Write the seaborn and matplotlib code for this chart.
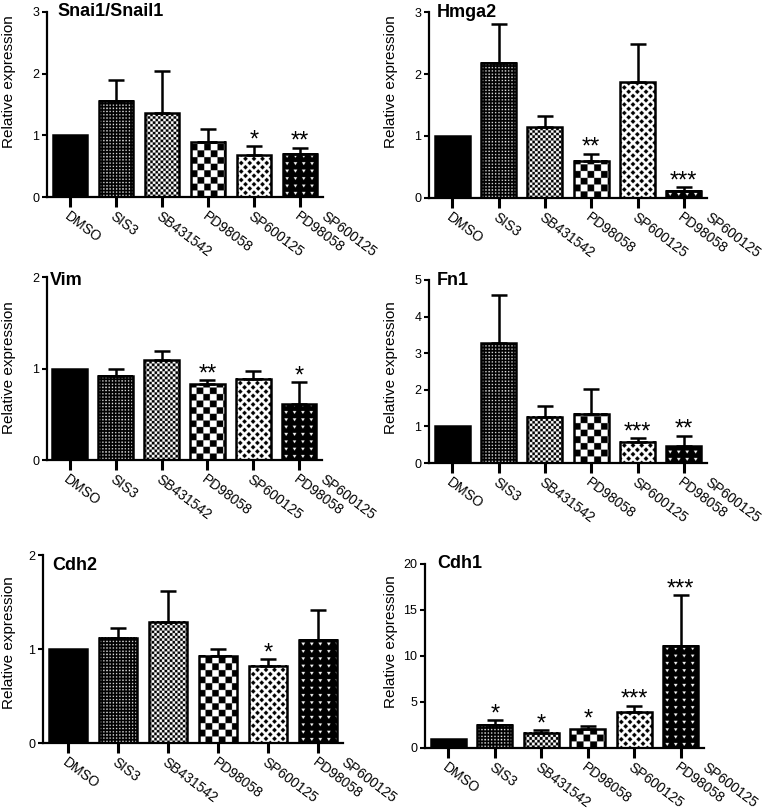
import numpy as np
import matplotlib
matplotlib.use("Agg")
import matplotlib.pyplot as plt
import seaborn as sns

groups = ["DMSO", "SIS3", "SB431542", "PD98058", "SP600125", "PD98058+SP600125"]

# mean and upper error (SEM)
snai1_mean = [1.00, 1.56, 1.36, 0.90, 0.68, 0.70]
snai1_sem = [0.00, 0.34, 0.69, 0.21, 0.14, 0.10]
snai1_sig = ["", "", "", "", "*", "**"]

hmga2_mean = [1.00, 2.18, 1.14, 0.60, 1.87, 0.12]
hmga2_sem = [0.00, 0.63, 0.18, 0.11, 0.61, 0.05]
hmga2_sig = ["", "", "", "**", "", "***"]

vim_mean = [1.00, 0.92, 1.09, 0.83, 0.89, 0.61]
vim_sem = [0.00, 0.08, 0.10, 0.04, 0.08, 0.24]
vim_sig = ["", "", "", "**", "", "*"]

fn1_mean = [1.00, 3.27, 1.27, 1.35, 0.58, 0.46]
fn1_sem = [0.00, 1.33, 0.28, 0.68, 0.10, 0.29]
fn1_sig = ["", "", "", "", "***", "**"]

cdh2_mean = [1.00, 1.12, 1.29, 0.93, 0.82, 1.10]
cdh2_sem = [0.00, 0.10, 0.33, 0.07, 0.07, 0.31]
cdh2_sig = ["", "", "", "", "*", ""]

cdh1_mean = [1.00, 2.50, 1.65, 2.03, 3.95, 11.10]
cdh1_sem = [0.00, 0.54, 0.28, 0.36, 0.62, 5.50]
cdh1_sig = ["", "*", "*", "*", "***", "***"]

genes = ["Snai1/Snail1", "Hmga2", "Vim", "Fn1", "Cdh2", "Cdh1"]
ymax = [3, 3, 2, 5, 2, 20]
yticks = [[0, 1, 2, 3], [0, 1, 2, 3], [0, 1, 2], [0, 1, 2, 3, 4, 5], [0, 1, 2], [0, 5, 10, 15, 20]]

means = [snai1_mean, hmga2_mean, vim_mean, fn1_mean, cdh2_mean, cdh1_mean]
sems = [snai1_sem, hmga2_sem, vim_sem, fn1_sem, cdh2_sem, cdh1_sem]
sigs = [snai1_sig, hmga2_sig, vim_sig, fn1_sig, cdh2_sig, cdh1_sig]

# layout in pixels: (left, right, top, bottom) of each plot area
boxes = [(47, 323, 12, 197), (429, 707, 12, 198), (47, 322, 277, 460),
         (429, 707, 280, 463), (43, 343, 555, 743), (425, 704, 564, 748)]
title_off = [(10, 6), (8, 5), (3, 2), (8, 5), (9, -5), (12, 6)]
ylab_pos = [(16, 82), (398, 82), (16, 368), (398, 368), (16, 643), (398, 642)]
patterns = [None, "dots", "fine", "checker", "diamond", "hearts"]

W, H, DPI = 764, 811, 100
PT = DPI / 72
ROT = -37
XFS = 10


def texture(kind, wpx, hpx, ss=4):
    ny = max(1, int(round(hpx * ss)))
    nx = max(1, int(round(wpx * ss)))
    yy, xx = np.mgrid[0:ny, 0:nx]
    x = (xx + 0.5) / ss
    y = (yy + 0.5) / ss
    if kind == "dots":
        p = 3.2
        white = (np.abs(x % p - p / 2) < 0.65) & (np.abs(y % p - p / 2) < 0.65)
    elif kind == "fine":
        c = 2.6
        white = ((x // c + y // c) % 2) == 0
    elif kind == "checker":
        c = 6.6
        white = ((x // c + y // c) % 2) == 0
    elif kind == "diamond":
        s = 8.5
        u = ((x + y) / s) % 1
        v = ((x - y) / s) % 1
        white = ~((np.abs(u - 0.5) < 0.27) & (np.abs(v - 0.5) < 0.27))
    else:
        sx, sy = 8.3, 7.3
        a = x % sx - sx / 2
        b = y % sy
        white = (b > 2) & (b < 5) & (np.abs(a) < (b - 2) * 0.6)
    return white.astype(float)


sns.set_style("ticks", {"axes.edgecolor": "black", "xtick.color": "black",
                        "ytick.color": "black", "text.color": "black",
                        "axes.labelcolor": "black"})
plt.rcParams["font.family"] = ["Liberation Sans", "DejaVu Sans"]

fig = plt.figure(figsize=(W / DPI, H / DPI), dpi=DPI)

for k in range(6):
    l, r, t, b = boxes[k]
    ax = fig.add_axes([l / W, 1 - b / H, (r - l) / W, (b - t) / H])
    sns.barplot(x=groups, y=means[k], color="white", edgecolor="black",
                linewidth=1.8, width=0.76, errorbar=None, ax=ax, zorder=2)
    bars = sorted(ax.patches, key=lambda p: p.get_x())
    ax.set_xlim(-0.5, 5.5)
    ax.set_ylim(0, ymax[k])

    for p, kind in zip(bars, patterns):
        if kind is None:
            p.set_facecolor("black")
            continue
        bb = p.get_window_extent()
        x0, y0, w, h = p.get_x(), p.get_y(), p.get_width(), p.get_height()
        ax.imshow(texture(kind, bb.width, bb.height), cmap="gray", vmin=0, vmax=1,
                  origin="lower", extent=(x0, x0 + w, y0, y0 + h), aspect="auto",
                  interpolation="antialiased", zorder=2.1)
        p.set_facecolor("none")
        p.set_zorder(2.2)
    ax.set_xlim(-0.5, 5.5)
    ax.set_ylim(0, ymax[k])

    mean = np.array(means[k])
    sem = np.array(sems[k])
    idx = np.nonzero(sem)[0]
    ax.errorbar(idx, mean[idx], yerr=[np.zeros(len(idx)), sem[idx]], fmt="none",
                ecolor="black", elinewidth=1.8, capsize=6, capthick=1.8, zorder=3)
    for i, s in enumerate(sigs[k]):
        if s:
            ax.annotate(s, xy=(i, mean[i] + sem[i]), xytext=(0, 0),
                        textcoords="offset points", ha="center", va="baseline",
                        fontsize=17)

    ax.set_yticks(yticks[k])
    ax.set_xticks(range(len(groups)))
    ax.set_xticklabels([g.split("+")[0] for g in groups])
    ax.tick_params(axis="x", length=7, width=2.2, pad=2, labelsize=XFS)
    ax.tick_params(axis="y", length=3.5, width=1.5, pad=2, labelsize=9)
    for lab in ax.get_xticklabels():
        lab.set_rotation(ROT)
        lab.set_ha("left")
        lab.set_va("top")
        lab.set_rotation_mode("anchor")
    ax.annotate(groups[-1].split("+")[1], xy=(5.58, 0),
                xycoords=("data", "axes fraction"), xytext=(0, -9),
                textcoords="offset points", rotation=ROT, rotation_mode="anchor",
                ha="left", va="top", fontsize=XFS, annotation_clip=False)

    sns.despine(ax=ax)
    for sp in ["left", "bottom"]:
        ax.spines[sp].set_linewidth(1.6)
    ax.set_xlabel("")
    ax.set_ylabel("Relative expression", fontsize=11)
    lx, ly = ylab_pos[k]
    ax.yaxis.set_label_coords((lx - l) / (r - l), (b - ly) / (b - t))
    dx, dy = title_off[k]
    ax.annotate(genes[k], xy=(0, 1), xycoords="axes fraction",
                xytext=(dx / PT, (dy + 3.4) / PT), textcoords="offset points",
                ha="left", va="top", fontsize=13, fontweight="bold")

fig.savefig("out.png", dpi=DPI)
